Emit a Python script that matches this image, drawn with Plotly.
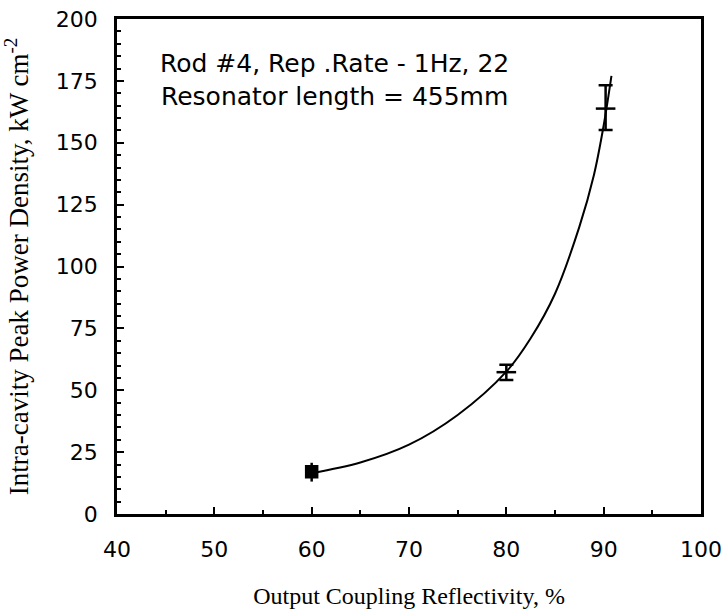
import plotly.graph_objects as go

# measured points
pt_x = [60, 80, 90.2]
pt_y = [17.1, 57.3, 163.8]
err_plus = [3.6, 3.0, 9.4]
err_minus = [4.0, 3.2, 8.6]

# fitted curve
curve_x = [60, 65, 70, 75, 80, 82.5, 85, 87.5, 89, 90, 90.8]
curve_y = [16.5, 20.8, 28.0, 40.0, 57.5, 71.0, 89.0, 116.0, 137.0, 157.0, 177.0]

x_ticks = [40, 50, 60, 70, 80, 90, 100]
y_ticks = [0, 25, 50, 75, 100, 125, 150, 175, 200]

fig = go.Figure()
fig.add_trace(go.Scatter(x=curve_x, y=curve_y, mode="lines",
                         line=dict(color="black", width=2, shape="spline", smoothing=1.0),
                         hoverinfo="skip", showlegend=False))

symbols = ["square", "line-ew", "line-ew"]
sizes = [11, 14, 14]
cap_w = [0, 7, 7]
for i in range(len(pt_x)):
    fig.add_trace(go.Scatter(x=[pt_x[i]], y=[pt_y[i]], mode="markers",
                             marker=dict(symbol=symbols[i], size=sizes[i], color="black", opacity=1,
                                         line=dict(color="black", width=2.5)),
                             error_y=dict(type="data", symmetric=False, array=[err_plus[i]],
                                          arrayminus=[err_minus[i]], color="black",
                                          thickness=2.5, width=cap_w[i]),
                             showlegend=False))

tick_font = dict(family="DejaVu Sans, Verdana, sans-serif", size=22, color="black")
axis_common = dict(showline=True, linecolor="black", linewidth=2.5, mirror=True,
                   ticks="inside", ticklen=7, tickwidth=2, tickcolor="black",
                   showgrid=False, zeroline=False, tickfont=tick_font, automargin=False,
                   minor=dict(ticks="inside", ticklen=4, tickwidth=1.5, tickcolor="black", dtick=5))

fig.update_xaxes(range=[40, 100], tickvals=x_ticks, ticktext=[str(v) for v in x_ticks],
                 ticklabelstandoff=14,
                 title=dict(text="Output Coupling Reflectivity, %", standoff=27,
                            font=dict(family="Liberation Serif, Times New Roman, serif", size=24, color="black")),
                 **axis_common)
fig.update_yaxes(range=[0, 200], tickvals=y_ticks, ticktext=[str(v) for v in y_ticks],
                 ticklabelstandoff=12,
                 title=dict(text="Intra-cavity Peak Power Density, kW cm<sup>-2</sup>", standoff=22,
                            font=dict(family="Liberation Serif, Times New Roman, serif", size=27, color="black")),
                 **axis_common)

fig.add_annotation(x=0.372, y=0.877, xref="paper", yref="paper", showarrow=False,
                   xanchor="center", yanchor="middle",
                   text="Rod #4, Rep .Rate - 1Hz, 22<br>Resonator length = 455mm",
                   font=dict(family="DejaVu Sans, Verdana, sans-serif", size=25, color="black"),
                   align="center")

fig.update_layout(width=727, height=612, margin=dict(l=117, r=26, t=19, b=98),
                  plot_bgcolor="white", paper_bgcolor="white")

fig.write_html("out.html")
